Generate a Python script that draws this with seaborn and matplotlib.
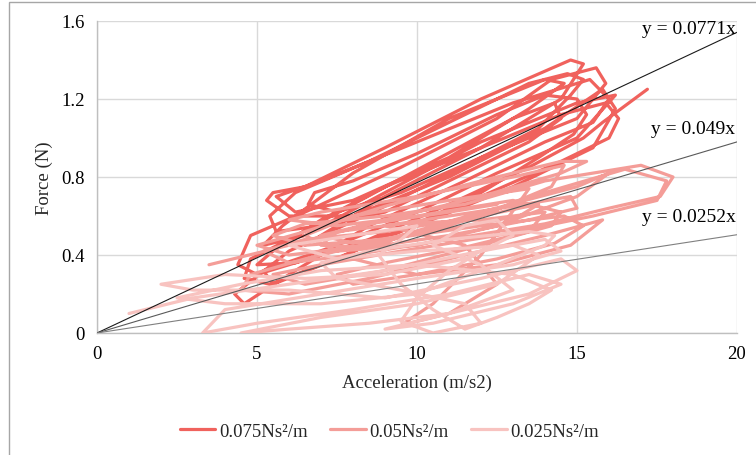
import matplotlib
matplotlib.use("Agg")
import matplotlib.pyplot as plt
import seaborn as sns
import pandas as pd
import numpy as np
from matplotlib.patches import Rectangle

# ---- data ----
series_names = ["0.075Ns\u00b2/m", "0.05Ns\u00b2/m", "0.025Ns\u00b2/m"]
colors = ["#F0625D", "#F49D98", "#F8C3C0"]

x_075 = [6.5, 9, 12, 14.5, 15.2, 14.8, 12, 9, 6.5, 5.5, 5.3, 6, 8, 11, 14, 15.8, 16.2, 15.5, 13, 10,
         7, 5, 4.4, 4.8, 6.5, 9.5, 12.5, 14.2, 15.6, 15.9, 15, 12, 9, 6, 4.3, 4.6, 6, 8.5, 11.5, 14,
         15.5, 16, 15.4, 13, 10, 7, 5.6, 6.2, 8, 11, 13.5, 14.6, 14, 11, 8, 5.8, 5.2, 6.5, 9, 12,
         15, 16.2, 15, 12.5, 10, 7.5, 5.2, 5.5, 7.5, 10.5,
         12, 13.8, 14.9, 15.3, 15, 14, 12.5, 10, 8, 6.8, 6.6, 7.5, 9.5, 12, 13.8, 14.8, 15.2, 14.7, 13.5, 11,
         8.5, 6.2, 5.4, 5.6, 7, 9, 11.5, 13.5, 14.5, 14.3, 13, 10.5, 8, 6, 4.8, 4.6, 5.4, 7, 9.5, 12,
         14.5, 16, 16.3, 15.9, 14.5, 12, 9, 7, 5.5, 5, 6.2, 8.5, 11, 13.5, 15.2, 15.8, 17.2]
y_075 = [0.45, 0.70, 0.95, 1.20, 1.38, 1.40, 1.20, 0.95, 0.75, 0.72, 0.68, 0.60, 0.60, 0.80, 1.05, 1.25, 1.15, 0.95, 0.75, 0.55,
         0.40, 0.30, 0.35, 0.50, 0.62, 0.85, 1.10, 1.30, 1.36, 1.28, 1.10, 0.90, 0.65, 0.42, 0.20, 0.15, 0.30, 0.55, 0.78, 0.98,
         1.08, 1.20, 1.30, 1.18, 0.98, 0.78, 0.70, 0.62, 0.68, 0.90, 1.15, 1.28, 1.30, 1.10, 0.82, 0.55, 0.45, 0.50, 0.72, 0.98,
         1.18, 1.22, 1.00, 0.82, 0.62, 0.45, 0.32, 0.25, 0.38, 0.60,
         0.72, 0.90, 1.02, 1.12, 1.20, 1.22, 1.12, 0.92, 0.78, 0.72, 0.66, 0.62, 0.72, 0.90, 1.05, 1.22, 1.30, 1.33, 1.28, 1.08,
         0.88, 0.72, 0.60, 0.52, 0.55, 0.62, 0.82, 0.98, 1.10, 1.18, 1.10, 0.88, 0.66, 0.48, 0.38, 0.28, 0.25, 0.35, 0.52, 0.70,
         0.88, 1.00, 1.10, 1.18, 1.12, 0.95, 0.75, 0.58, 0.42, 0.35, 0.36, 0.48, 0.66, 0.85, 1.00, 1.08, 1.25]

x_050 = [3.5, 6, 9, 12, 14.5, 15.3, 14.5, 12, 9, 6.5, 5, 6, 8.5, 11, 14, 16.5, 17.8, 17.5, 15.5, 12.5,
         9.5, 7, 5.5, 6.5, 9, 12, 14.2, 14.5, 13, 10, 7.5, 6, 7, 10, 13, 14.6, 14.2, 12, 9, 6.5,
         4.8, 4.5, 6, 8.5, 11.5, 14, 15.8, 14.8, 12.5, 10, 8, 9.5, 12, 15, 16, 15, 12.5, 10, 7.5, 6.5,
         8, 11, 13.5, 12, 10.5, 9.5, 11, 12.5, 11.5,
         9, 11, 13, 14.8, 15, 13.5, 11, 8.5, 7, 7.5, 9.5, 12, 14, 13.5, 11.5, 9, 7.5, 8, 10, 12.5,
         14.3, 15.2, 14.6, 12, 9, 6.5, 5.5, 6.5, 9, 11.5, 14, 15.5, 17, 18, 17.6, 16,
         14, 11, 8, 6, 5.2, 6.5, 9, 12, 13.8, 13.2, 10.5, 8, 7, 8.5, 11, 12.5]
y_050 = [0.35, 0.45, 0.58, 0.70, 0.82, 0.88, 0.88, 0.78, 0.65, 0.52, 0.45, 0.40, 0.45, 0.55, 0.72, 0.84, 0.78, 0.68, 0.60, 0.50,
         0.42, 0.35, 0.30, 0.25, 0.32, 0.45, 0.55, 0.62, 0.68, 0.60, 0.55, 0.58, 0.62, 0.70, 0.80, 0.86, 0.75, 0.60, 0.48, 0.38,
         0.30, 0.22, 0.20, 0.28, 0.40, 0.50, 0.58, 0.45, 0.35, 0.30, 0.38, 0.50, 0.62, 0.75, 0.82, 0.70, 0.55, 0.45, 0.42, 0.50,
         0.60, 0.68, 0.74, 0.40, 0.15, 0.04, 0.10, 0.25, 0.45,
         0.55, 0.60, 0.65, 0.70, 0.64, 0.58, 0.50, 0.44, 0.45, 0.52, 0.56, 0.58, 0.62, 0.52, 0.44, 0.36, 0.30, 0.25, 0.30, 0.38,
         0.46, 0.55, 0.60, 0.55, 0.48, 0.45, 0.50, 0.56, 0.60, 0.66, 0.78, 0.82, 0.86, 0.80, 0.70, 0.64,
         0.56, 0.48, 0.40, 0.36, 0.42, 0.48, 0.52, 0.60, 0.66, 0.60, 0.52, 0.46, 0.50, 0.56, 0.62, 0.66]

x_025 = [1, 3, 6, 9, 12, 14, 14.5, 13, 10, 7, 4, 3.3, 5, 8, 11, 13.5, 14.5, 13, 10.5, 9,
         11, 13, 12, 10.5, 11.5, 12.5, 13, 11.5, 9, 6.5, 4, 2, 3, 6, 9, 12, 14.5, 15, 13.5, 11,
         8.5, 6, 4.5, 7, 10, 12.5, 13.8, 13, 10, 7.5, 6, 8, 10, 9.5, 8.8, 9.5, 10.5, 11.5, 12.5, 13.5,
         14.2, 13, 10, 7, 4.5, 2.5, 4, 7, 10, 12.5, 14, 14.3, 13.5, 11, 8.5, 7, 7.5, 9.5, 11.5, 12,
         10.5, 9.5, 10, 11, 11.8]
y_025 = [0.10, 0.18, 0.25, 0.32, 0.42, 0.48, 0.42, 0.35, 0.28, 0.20, 0.12, 0.00, 0.05, 0.12, 0.20, 0.30, 0.25, 0.15, 0.05, 0.02,
         0.10, 0.22, 0.35, 0.45, 0.55, 0.58, 0.50, 0.38, 0.30, 0.28, 0.30, 0.25, 0.22, 0.22, 0.18, 0.28, 0.38, 0.32, 0.20, 0.10,
         0.05, 0.02, 0.00, 0.08, 0.15, 0.25, 0.40, 0.45, 0.42, 0.38, 0.45, 0.50, 0.55, 0.48, 0.40, 0.25, 0.12, 0.02, 0.08, 0.15,
         0.22, 0.30, 0.35, 0.32, 0.25, 0.18, 0.15, 0.15, 0.20, 0.35, 0.45, 0.50, 0.52, 0.48, 0.42, 0.36, 0.28, 0.22, 0.15, 0.05,
         0.00, 0.06, 0.18, 0.32, 0.40]

trend_slopes = [0.0771, 0.049, 0.0252]
trend_labels = ["y = 0.0771x", "y = 0.049x", "y = 0.0252x"]
trend_colors = ["#1a1a1a", "#595959", "#808080"]
trend_label_y = [1.56, 1.05, 0.595]

xticks = [0, 5, 10, 15, 20]
yticks = [0, 0.4, 0.8, 1.2, 1.6]
ytick_labels = ["0", "0.4", "0.8", "1.2", "1.6"]

# ---- build table ----
frames = []
for name, xs, ys in zip(series_names, [x_075, x_050, x_025], [y_075, y_050, y_025]):
    frames.append(pd.DataFrame({"x": xs, "y": ys, "series": name, "order": range(len(xs))}))
df = pd.concat(frames, ignore_index=True)

sns.set_theme(style="white")
plt.rcParams["font.family"] = ["Liberation Serif", "DejaVu Serif"]

fig = plt.figure(figsize=(7.56, 4.56), dpi=100)
ax = fig.add_axes([97 / 756, 1 - 334 / 456, 640 / 756, 312 / 456])

sns.lineplot(data=df, x="x", y="y", hue="series", hue_order=series_names,
             palette=colors, sort=False, estimator=None, lw=2.3, ax=ax,
             legend=False, zorder=3)
for ln in ax.lines:
    ln.set_solid_joinstyle("round")
    ln.set_solid_capstyle("round")

xs_line = np.array([0, 20])
for s, c, lab, ly in zip(trend_slopes, trend_colors, trend_labels, trend_label_y):
    ax.plot(xs_line, s * xs_line, color=c, lw=0.8, zorder=4)
    ax.text(19.95, ly, lab, ha="right", va="center", fontsize=14, color="#000000", zorder=5)

ax.set_xlim(0, 20)
ax.set_ylim(0, 1.6)
ax.set_xticks(xticks)
ax.set_yticks(yticks)
ax.set_yticklabels(ytick_labels)
ax.grid(True, color="#D9D9D9", lw=1)
ax.set_axisbelow(True)
for side in ["top", "right"]:
    ax.spines[side].set_visible(False)
for side in ["left", "bottom"]:
    ax.spines[side].set_color("#BFBFBF")
    ax.spines[side].set_linewidth(1)
ax.tick_params(axis="both", length=0, labelsize=13.5, pad=9, colors="#000000")
ax.set_xlabel("Acceleration (m/s2)", fontsize=13.5, labelpad=8)
ax.set_ylabel("Force (N)", fontsize=13.5, labelpad=6)

handles = [plt.Line2D([0], [0], color=c, lw=2.3) for c in colors]
fig.legend(handles, series_names, loc="center", bbox_to_anchor=(0.515, 1 - 432 / 456),
           ncol=3, frameon=False, fontsize=13.5, handlelength=1.9, handletextpad=0.2,
           columnspacing=1.2)

fig.patches.append(Rectangle((8.5 / 756, -0.05), 1.2, (456 - 2.5) / 456 + 0.05,
                             transform=fig.transFigure, fill=False,
                             edgecolor="#A6A6A6", lw=1))

fig.savefig("out.png", dpi=100)
